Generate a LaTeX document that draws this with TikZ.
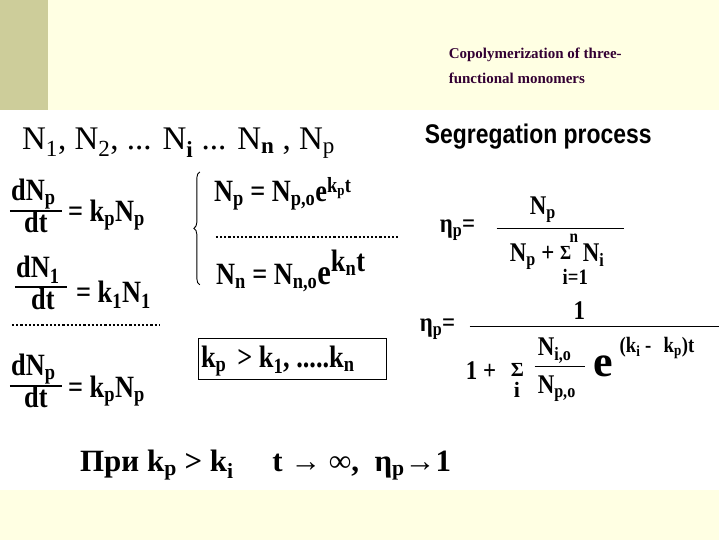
\documentclass[tikz,border=0pt]{standalone}
\usepackage{fontspec}
\setmainfont{Liberation Serif}
\newfontfamily\segfont{Liberation Sans}
\usetikzlibrary{positioning,decorations.pathreplacing}
\newcommand{\lo}[1]{\textsubscript{#1}}
\newcommand{\hi}[1]{\textsuperscript{#1}}
\newcommand{\cnd}[1]{\scalebox{0.85}[1]{#1}}
\definecolor{paper}{HTML}{FFFFE3}
\definecolor{strip}{HTML}{CDCD9A}
\definecolor{titlecol}{HTML}{330033}
\begin{document}
\begin{tikzpicture}[x=1pt,y=-1pt,every node/.style={inner sep=0pt,anchor=base west},
  mid/.style={font=\fontsize{31}{33}\selectfont\bfseries},
  small/.style={font=\fontsize{27}{29}\selectfont\bfseries},
  bar/.style={line width=2pt},
  dots/.style={line width=2.4pt,dash pattern=on 2.2pt off 2pt}]
			%background
			\fill[paper] (0,0) rectangle (720,540);
			\fill[strip] (0,0) rectangle (48,110);
			\fill[white] (0,110) rectangle (720,490);
			\node[font=\fontsize{15}{25}\selectfont\bfseries,text=titlecol,align=left] (title) at (449,84) {Copolymerization of three-\\functional monomers};

			%top row
			\node[font=\fontsize{33}{35}\selectfont] (list) at (22,150) {N\lo{1}, N\lo{2}, ... N\lo{\textbf{i}} ... N\lo{\textbf{n}} , N\lo{p}};
			\node[font=\fontsize{27}{29}\selectfont\segfont\bfseries] (seg) at (425,144) {\cnd{Segregation process}};

			%left equations
			\node[mid] (d1) at (11,201) {\cnd{dN\lo{p}}};
			\node[mid] (t1) at (24,233) {\cnd{dt}};
			\draw[bar] (10,211) -- (62,211);
			\node[mid] (r1) at (68,222) {\cnd{= k\lo{p}N\lo{p}}};
			\node[mid] (d2) at (16,278) {\cnd{dN\lo{1}}};
			\node[mid] (t2) at (31,310) {\cnd{dt}};
			\draw[bar] (15,287) -- (67,287);
			\node[mid] (r2) at (76,303) {\cnd{= k\lo{1}N\lo{1}}};
			\draw[dots] (12,325) -- (160,325);
			\node[mid] (d3) at (11,376) {\cnd{dN\lo{p}}};
			\node[mid] (t3) at (24,408) {\cnd{dt}};
			\draw[bar] (10,386) -- (62,386);
			\node[mid] (r3) at (68,398) {\cnd{= k\lo{p}N\lo{p}}};

			%braced system
			\draw[decorate,decoration={brace,amplitude=6pt},line width=0.9pt] (200,285) -- (200,172);
			\node[mid] (np) at (214,202) {\cnd{N\lo{p} = N\lo{p,o}e\hi{k\lo{p}t}}};
			\draw[dots] (216,237) -- (400,237);
			\node[mid] (nn) at (216,285) {\cnd{N\lo{n} = N\lo{n,o}\fontsize{36}{36}\selectfont e\raisebox{4pt}{\hi{\fontsize{31}{31}\selectfont k\lo{n}t}}}};
			\node[draw,line width=1.2pt,anchor=north west,inner sep=0pt,minimum width=188pt,minimum height=41pt] (ineq) at (198,338) {};
			\node[mid] (ineqtxt) at (201,368) {\cnd{k\lo{p} \,> k\lo{1}, .....k\lo{n}}};

			%right fractions
			\node[small] (eta1) at (440,233) {\cnd{η\lo{p}=}};
			\node[small] (num1) at (530,215) {\cnd{N\lo{p}}};
			\draw[line width=1pt] (497,229) -- (625,229);
			\node[small] (den1) at (510,262) {\cnd{N\lo{p} + \raisebox{2pt}{\fontsize{20}{20}\selectfont Σ}\ \ N\lo{i}}};
			\node[font=\fontsize{18}{18}\selectfont\bfseries] (sup1) at (570,243) {\cnd{n}};
			\node[font=\fontsize{22}{22}\selectfont\bfseries] (sub1) at (563,285) {\cnd{i=1}};
			\node[small] (eta2) at (420,332) {\cnd{η\lo{p}=}};
			\node[small] (num2) at (574,320) {\cnd{1}};
			\draw[line width=1.2pt] (470,327) -- (720,327);
			\node[small] (one) at (466,380) {\cnd{1 +}};
			\node[font=\fontsize{20}{20}\selectfont\bfseries] (sig) at (511,377) {Σ};
			\node[font=\fontsize{22}{22}\selectfont\bfseries] (si) at (514,398) {i};
			\node[small] (ni) at (538,356) {\cnd{N\lo{i,o}}};
			\draw[line width=1.2pt] (535,367) -- (585,367);
			\node[small] (pn) at (538,394) {\cnd{N\lo{p,o}}};
			\node[font=\fontsize{44}{44}\selectfont\bfseries] (ex) at (594,377) {e};
			\node[font=\fontsize{22}{22}\selectfont\bfseries] (pw) at (620,353) {\cnd{(k\lo{i} - \, k\lo{p})t}};

			%bottom line
			\node[mid] (lim) at (80,472) {При k\lo{p} > k\lo{i} \quad t → ∞, \ η\lo{p}→1};
\end{tikzpicture}
\end{document}
